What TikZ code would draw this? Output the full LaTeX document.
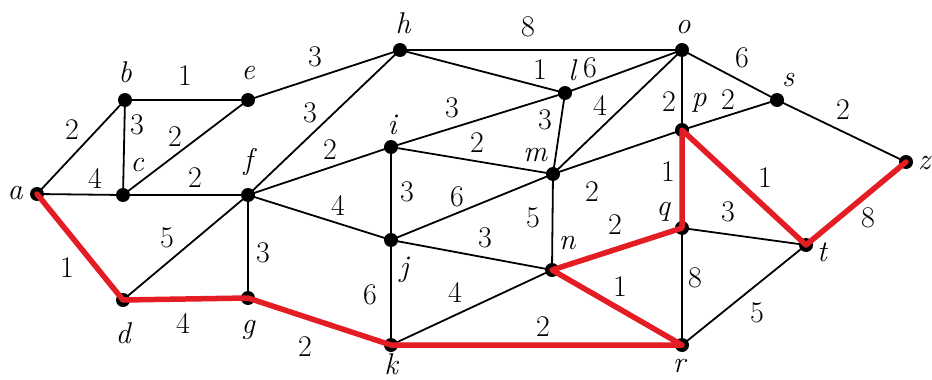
\documentclass[tikz,border=0pt]{standalone}
\definecolor{pathred}{RGB}{228,28,36}
\tikzset{
  vtx/.style={circle,fill=black,inner sep=0pt,minimum size=14pt},
  edge/.style={draw=black,line width=1.8pt},
  redge/.style={draw=pathred,line width=5.5pt,line cap=round,line join=round},
  wlbl/.style={font=\rmfamily\fontsize{30}{30}\selectfont,inner sep=0pt},
  vlbl/.style={font=\rmfamily\fontsize{30}{30}\selectfont\itshape,inner sep=0pt}
}
\begin{document}
\begin{tikzpicture}[x=1pt,y=-1pt]
\useasboundingbox (0,0) rectangle (932,380);
% vertices
\coordinate (a) at (37,194);
\coordinate (b) at (125,100);
\coordinate (c) at (123,195);
\coordinate (d) at (123,300);
\coordinate (e) at (248,100);
\coordinate (f) at (248,195);
\coordinate (g) at (248,298);
\coordinate (h) at (400,50);
\coordinate (i) at (391,147);
\coordinate (j) at (391,240);
\coordinate (k) at (391,345);
\coordinate (l) at (565,93);
\coordinate (m) at (553,174);
\coordinate (n) at (552,270);
\coordinate (o) at (682,50);
\coordinate (p) at (682,130);
\coordinate (q) at (682,228);
\coordinate (r) at (682,345);
\coordinate (s) at (777,100);
\coordinate (t) at (806,245);
\coordinate (z) at (906,162);
% black edges
\foreach \u/\v in {a/b,a/c,b/c,b/e,c/e,c/f,d/f,f/g,e/h,f/h,f/i,f/j,h/o,h/l,l/o,i/l,i/m,l/m,m/o,o/p,i/j,j/m,m/n,j/n,j/k,k/n,m/p,o/s,p/s,s/z,q/t,q/r,r/t}
  \draw[edge] (\u) -- (\v);
% dots
\foreach \v in {a,b,c,d,e,f,g,h,i,j,k,l,m,n,o,p,q,r,s,t,z}
  \node[vtx] (dot-\v) at (\v) {};
% red path
\draw[redge] (a) -- (d) -- (g) -- (k) -- (r) -- (n) -- (q) -- (p) -- (t) -- (z);
% vertex labels
\node[vlbl] (L-a) at (15,193) {a};
\node[vlbl] (L-b) at (125,72) {b};
\node[vlbl] (L-c) at (137,165) {c};
\node[vlbl] (L-d) at (123,333) {d};
\node[vlbl] (L-e) at (248,73) {e};
\node[vlbl] (L-f) at (248,162) {f};
\node[vlbl] (L-g) at (248,330) {g};
\node[vlbl] (L-h) at (403,23) {h};
\node[vlbl] (L-i) at (392,125) {i};
\node[vlbl] (L-j) at (404,270) {j};
\node[vlbl] (L-k) at (391,364) {k};
\node[vlbl] (L-l) at (572,70) {l};
\node[vlbl] (L-m) at (535,155) {m};
\node[vlbl] (L-n) at (567,243) {n};
\node[vlbl] (L-o) at (683,27) {o};
\node[vlbl] (L-p) at (699,103) {p};
\node[vlbl] (L-q) at (663,212) {q};
\node[vlbl] (L-r) at (679,366) {r};
\node[vlbl] (L-s) at (788,80) {s};
\node[vlbl] (L-t) at (822,252) {t};
\node[vlbl] (L-z) at (924,163) {z};
% weights
\node[wlbl] (W-ab) at (72,130) {2};
\node[wlbl] (W-ac) at (95,178) {4};
\node[wlbl] (W-bc) at (137,125) {3};
\node[wlbl] (W-be) at (185,76) {1};
\node[wlbl] (W-ce) at (175,137) {2};
\node[wlbl] (W-cf) at (195,178) {2};
\node[wlbl] (W-ad) at (67,268) {1};
\node[wlbl] (W-df) at (167,238) {5};
\node[wlbl] (W-fg) at (263,253) {3};
\node[wlbl] (W-dg) at (183,323) {4};
\node[wlbl] (W-gk) at (305,347) {2};
\node[wlbl] (W-eh) at (315,57) {3};
\node[wlbl] (W-fh) at (310,113) {3};
\node[wlbl] (W-fi) at (330,150) {2};
\node[wlbl] (W-fj) at (338,205) {4};
\node[wlbl] (W-ho) at (528,27) {8};
\node[wlbl] (W-hl) at (540,70) {1};
\node[wlbl] (W-lo) at (590,68) {6};
\node[wlbl] (W-il) at (452,108) {3};
\node[wlbl] (W-im) at (477,143) {2};
\node[wlbl] (W-lm) at (545,120) {3};
\node[wlbl] (W-mo) at (600,105) {4};
\node[wlbl] (W-op) at (669,102) {2};
\node[wlbl] (W-ij) at (407,192) {3};
\node[wlbl] (W-jm) at (457,197) {6};
\node[wlbl] (W-mn) at (533,218) {5};
\node[wlbl] (W-jn) at (485,238) {3};
\node[wlbl] (W-jk) at (370,295) {6};
\node[wlbl] (W-kn) at (455,292) {4};
\node[wlbl] (W-kr) at (543,327) {2};
\node[wlbl] (W-mp) at (592,192) {2};
\node[wlbl] (W-nq) at (615,225) {2};
\node[wlbl] (W-nr) at (620,287) {1};
\node[wlbl] (W-pq) at (668,172) {1};
\node[wlbl] (W-ps) at (728,100) {2};
\node[wlbl] (W-os) at (742,58) {6};
\node[wlbl] (W-sz) at (843,110) {2};
\node[wlbl] (W-pt) at (765,178) {1};
\node[wlbl] (W-qt) at (728,212) {3};
\node[wlbl] (W-tz) at (868,218) {8};
\node[wlbl] (W-qr) at (695,278) {8};
\node[wlbl] (W-rt) at (757,313) {5};
\end{tikzpicture}
\end{document}
